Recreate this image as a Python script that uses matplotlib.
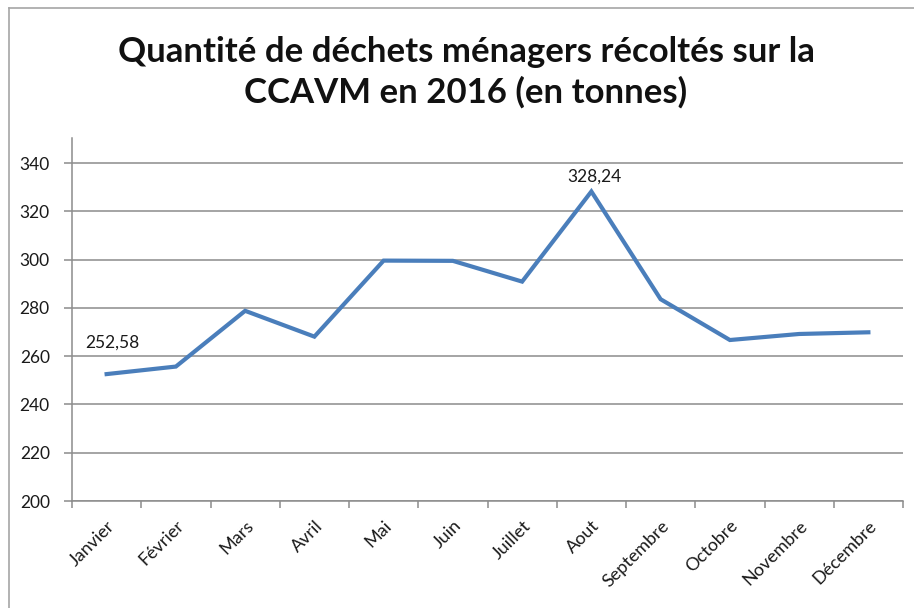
import matplotlib
matplotlib.use("Agg")
import matplotlib.pyplot as plt
from matplotlib.lines import Line2D

plt.rcParams['font.family'] = ['Lato', 'DejaVu Sans']

months = ["Janvier", "Février", "Mars", "Avril", "Mai", "Juin", "Juillet",
          "Aout", "Septembre", "Octobre", "Novembre", "Décembre"]
tonnes = [252.58, 255.7, 278.8, 268.1, 299.6, 299.5, 290.9,
          328.24, 283.6, 266.7, 269.2, 269.9]
y_ticks = [200, 220, 240, 260, 280, 300, 320, 340]
title = "Quantité de déchets ménagers récoltés sur la\nCCAVM en 2016 (en tonnes)"

W, H = 914, 608
fig = plt.figure(figsize=(W / 100, H / 100), dpi=100)
fig.patch.set_facecolor("white")

# chart frame
frame_c = "#A6A6A6"
fig.add_artist(Line2D([9 / W, 9 / W], [0, 1 - 8 / H], transform=fig.transFigure, color=frame_c, lw=1.2))
fig.add_artist(Line2D([9 / W, 1], [1 - 8 / H, 1 - 8 / H], transform=fig.transFigure, color=frame_c, lw=1.2))

left, right, bottom, top = 72, 903, 501, 138
ax = fig.add_axes([left / W, 1 - bottom / H, (right - left) / W, (bottom - top) / H])

x = list(range(len(months)))
ax.plot(x, tonnes, color="#4A7EBB", lw=3.0, solid_joinstyle="miter", zorder=3)

ax.set_xlim(-0.5, len(months) - 0.5)
ax.set_ylim(200, 350.4)
ax.set_yticks(y_ticks)
ax.set_yticklabels([str(v) for v in y_ticks], fontsize=12.5, color="#1A1A1A")
ax.yaxis.grid(True, color="#8C8C8C", lw=1.1)
ax.set_axisbelow(True)

ax.set_xticks(x)
ax.set_xticklabels(months, rotation=45, ha="right", va="top", rotation_mode="anchor",
                   fontsize=13, color="#1A1A1A")
ax.set_xticks([i - 0.5 for i in range(len(months) + 1)], minor=True)
ax.tick_params(axis="x", which="major", length=0, pad=12)
ax.tick_params(axis="x", which="minor", length=5, width=1.1, color="#8C8C8C", direction="out")
ax.tick_params(axis="y", length=6, width=1.1, color="#8C8C8C", direction="out", pad=10)

for s in ("top", "right"):
    ax.spines[s].set_visible(False)
for s in ("left", "bottom"):
    ax.spines[s].set_color("#8C8C8C")
    ax.spines[s].set_linewidth(1.1)

# value labels on first month and peak
ax.annotate("252,58", (0, tonnes[0]), xytext=(4, 23), textcoords="offset points",
            ha="center", va="center", fontsize=12.5, color="#1A1A1A")
ax.annotate("328,24", (7, tonnes[7]), xytext=(2, 11), textcoords="offset points",
            ha="center", va="center", fontsize=12.5, color="#1A1A1A")

fig.text(466 / W, 1 - 72 / H, title, ha="center", va="center", fontsize=25,
         fontweight="bold", color="#111111", linespacing=1.3)

fig.savefig("out.png", dpi=100, facecolor="white")
